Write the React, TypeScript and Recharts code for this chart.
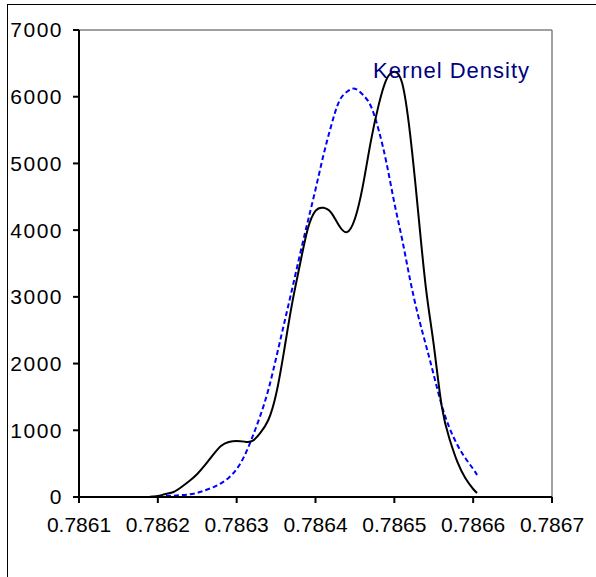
import React from 'react';
import { LineChart, Line, XAxis, YAxis, ReferenceLine } from 'recharts';

// x positions shared by both curves
const xValues = [
  0.78619, 0.7862, 0.78621, 0.78622, 0.78623, 0.78624, 0.78625, 0.78626, 0.78627, 0.78628,
  0.78629, 0.7863, 0.78631, 0.78632, 0.78633, 0.78634, 0.78635, 0.78636, 0.78637, 0.78638,
  0.78639, 0.7864, 0.78641, 0.78642, 0.78643, 0.78644, 0.78645, 0.78646, 0.78647, 0.78648,
  0.78649, 0.7865, 0.78651, 0.78652, 0.78653, 0.78654, 0.78655, 0.78656, 0.78657, 0.78658,
  0.78659, 0.7866, 0.786605,
];

// kernel density (black solid)
const kernelValues = [
  5, 15, 45, 75, 150, 240, 345, 480, 630, 765,
  825, 840, 830, 840, 960, 1150, 1540, 2180, 2880, 3470,
  4010, 4290, 4335, 4260, 4065, 3970, 4170, 4660, 5320, 5870,
  6260, 6375, 6200, 5440, 4300, 3140, 2280, 1370, 870, 525,
  285, 120, 60,
];

// normal fit (blue dashed)
const normalValues = [
  0, 8, 14, 20, 28, 40, 62, 100, 145, 205,
  290, 420, 620, 900, 1220, 1600, 2080, 2590, 3100, 3620,
  4120, 4610, 5120, 5570, 5930, 6075, 6120, 6030, 5865, 5505,
  5010, 4410, 3855, 3255, 2730, 2280, 1830, 1380, 1035, 780,
  585, 420, 330,
];

const xTicks = [0.7861, 0.7862, 0.7863, 0.7864, 0.7865, 0.7866, 0.7867];
const yTicks = [0, 1000, 2000, 3000, 4000, 5000, 6000, 7000];

const data = xValues.map((x, i) => ({ x, kernel: kernelValues[i], normal: normalValues[i] }));

const font = '"Liberation Sans", Arial, sans-serif';

export default function App() {
  return (
    <div style={{ position: 'absolute', left: 0, top: 0, width: 596, height: 577, overflow: 'hidden', background: '#fff' }}>
      <div style={{ position: 'absolute', left: 7, top: 4, width: 700, height: 700, border: '1px solid #000' }} />
      <div style={{ position: 'absolute', left: 0, top: 0 }}>
        <LineChart width={596} height={577} data={data} margin={{ top: 30, right: 44, bottom: 30, left: 9 }}>
          <XAxis
            dataKey="x"
            type="number"
            domain={[0.7861, 0.7867]}
            ticks={xTicks}
            tickFormatter={(v) => Number(v).toFixed(4)}
            height={50}
            tickSize={6}
            tickMargin={14}
            axisLine={{ stroke: '#000', strokeWidth: 2 }}
            tickLine={{ stroke: '#000', strokeWidth: 2 }}
            tick={{ fill: '#000', fontSize: 21, fontFamily: font }}
            interval={0}
            allowDataOverflow
          />
          <YAxis
            type="number"
            domain={[0, 7000]}
            ticks={yTicks}
            width={70}
            tickSize={6}
            tickMargin={10}
            axisLine={{ stroke: '#000', strokeWidth: 2 }}
            tickLine={{ stroke: '#000', strokeWidth: 2 }}
            tick={{ fill: '#000', fontSize: 21, fontFamily: font, letterSpacing: 1.5 }}
            interval={0}
          />
          <ReferenceLine y={7000} stroke="#808080" strokeWidth={1.5} />
          <ReferenceLine x={0.7867} stroke="#808080" strokeWidth={1.5} />
          <Line
            type="natural"
            dataKey="normal"
            stroke="#0000ff"
            strokeWidth={2}
            strokeDasharray="5 3"
            dot={false}
            isAnimationActive={false}
          />
          <Line
            type="natural"
            dataKey="kernel"
            stroke="#000"
            strokeWidth={2}
            dot={false}
            isAnimationActive={false}
          />
        </LineChart>
      </div>
      <svg width={596} height={577} style={{ position: 'absolute', left: 0, top: 0, pointerEvents: 'none' }}>
        <text x={373} y={78} fill="#000080" fontSize={22} fontFamily={font} letterSpacing={1}>
          Kernel Density
        </text>
      </svg>
    </div>
  );
}
